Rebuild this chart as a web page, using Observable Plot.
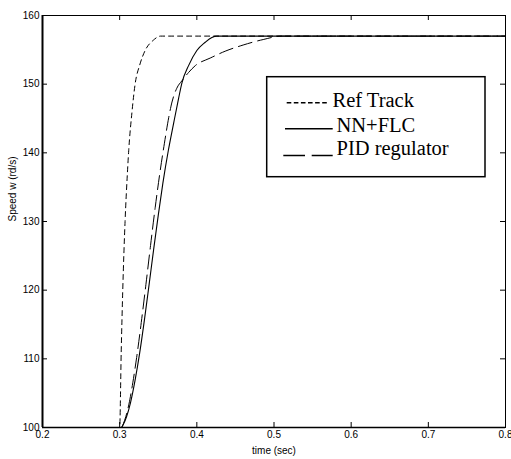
<!DOCTYPE html>
<html><head><meta charset="utf-8">
<script src="https://cdn.jsdelivr.net/npm/d3@7"></script>
<script src="https://cdn.jsdelivr.net/npm/@observablehq/plot@0.6"></script>
<style>
body{margin:0;background:#fff;}
#wrap{position:relative;width:511px;height:459px;}
#legend{position:absolute;left:0;top:0;pointer-events:none;}
</style></head><body>
<div id="wrap"></div>
<script>
// ---- data ----
const xTicks = [0.2, 0.3, 0.4, 0.5, 0.6, 0.7, 0.8];
const yTicks = [100, 110, 120, 130, 140, 150, 160];
const xDomain = [0.2, 0.8];
const yDomain = [100, 160];
const xLabel = "time (sec)";
const yLabel = "Speed w (rd/s)";
const seriesNames = ["Ref Track", "NN+FLC", "PID regulator"];

const refT = [0.2, 0.300, 0.302, 0.304, 0.307, 0.310, 0.3117, 0.316, 0.320, 0.326, 0.333, 0.3436, 0.353, 0.8];
const refV = [100, 100, 111, 120, 130, 137, 140.3, 146, 150, 152.8, 154.9, 156.4, 157, 157];

const nnT = [0.2, 0.302, 0.305, 0.309, 0.314, 0.320, 0.326, 0.332, 0.338, 0.344, 0.350, 0.356, 0.363, 0.3699, 0.3763, 0.3807, 0.3893, 0.400, 0.4109, 0.4195, 0.426, 0.8];
const nnV = [100, 100, 100.5, 101.6, 103.6, 106.9, 110.9, 115.6, 120.7, 125.9, 130.9, 135.6, 140.3, 144.3, 147.9, 150.2, 152.7, 154.9, 156.1, 156.8, 157, 157];

const pidT = [0.2, 0.302, 0.305, 0.308, 0.312, 0.317, 0.322, 0.328, 0.334, 0.340, 0.346, 0.352, 0.358, 0.3635, 0.3678, 0.374, 0.3807, 0.3893, 0.398, 0.4173, 0.4367, 0.460, 0.486, 0.510, 0.8];
const pidV = [100, 100, 100.6, 101.6, 103.4, 106.5, 110.2, 115.3, 120.8, 126.5, 132, 137, 141.4, 145.1, 147.4, 149.4, 150.5, 151.7, 152.7, 153.8, 154.8, 155.7, 156.5, 157, 157];

// ---- layout ----
const W = 511, H = 459, mL = 42, mR = 6, mT = 15, mB = 32;
const innerW = W - mL - mR, innerH = H - mT - mB;
const rows = (t, v) => t.map((x, i) => ({t: x, v: v[i]}));

const plot = Plot.plot({
  width: W, height: H,
  marginLeft: mL, marginRight: mR, marginTop: mT, marginBottom: mB,
  x: {domain: xDomain},
  y: {domain: yDomain},
  style: {fontFamily: "'Liberation Sans', Arial, sans-serif", fontSize: "10px", color: "#000", background: "#fff"},
  marks: [
    Plot.line(rows(pidT, pidV), {x: "t", y: "v", stroke: "#000", strokeWidth: 1, strokeDasharray: "14,6", curve: "monotone-x"}),
    Plot.line(rows(nnT, nnV), {x: "t", y: "v", stroke: "#000", strokeWidth: 1.1, curve: "monotone-x"}),
    Plot.line(rows(refT, refV), {x: "t", y: "v", stroke: "#000", strokeWidth: 1, strokeDasharray: "5,4", curve: "monotone-x"}),
    Plot.axisX({ticks: xTicks, tickSize: 0, tickPadding: 3, tickFormat: d3.format(".1f"), label: null}),
    Plot.axisY({ticks: yTicks, tickSize: 0, tickPadding: 3, tickFormat: d3.format("d"), label: null}),
    Plot.tickX(xTicks, {x: d => d, insetTop: innerH - 5}),
    Plot.tickX(xTicks, {x: d => d, insetBottom: innerH - 5}),
    Plot.tickY(yTicks, {y: d => d, insetRight: innerW - 5}),
    Plot.tickY(yTicks, {y: d => d, insetLeft: innerW - 5}),
    Plot.frame({stroke: "#000", strokeWidth: 1}),
    Plot.ruleX([xDomain[0]], {stroke: "#000", strokeWidth: 2}),
    Plot.ruleY([yDomain[0]], {stroke: "#000", strokeWidth: 1.5}),
    Plot.text([xLabel], {text: d => d, frameAnchor: "bottom", dy: 26}),
    Plot.text([yLabel], {text: d => d, frameAnchor: "left", dx: -29.5, rotate: -90})
  ]
});
const wrap = document.getElementById("wrap");
wrap.appendChild(plot);

// ---- legend (overlay inside the axes) ----
const ns = "http://www.w3.org/2000/svg";
const lg = document.createElementNS(ns, "svg");
lg.setAttribute("id", "legend");
lg.setAttribute("width", W);
lg.setAttribute("height", H);
function el(name, attrs, text) {
  const e = document.createElementNS(ns, name);
  for (const k in attrs) e.setAttribute(k, attrs[k]);
  if (text) e.textContent = text;
  lg.appendChild(e);
  return e;
}
el("rect", {x: 266.7, y: 76.7, width: 218.3, height: 100, fill: "#fff", stroke: "#000", "stroke-width": 1.5});
el("line", {x1: 286.7, x2: 327, y1: 102.7, y2: 102.7, stroke: "#000", "stroke-width": 1.4, "stroke-dasharray": "4.6,2.5"});
el("line", {x1: 285, x2: 332.7, y1: 128.7, y2: 128.7, stroke: "#000", "stroke-width": 1.5});
el("line", {x1: 283.3, x2: 305, y1: 155.5, y2: 155.5, stroke: "#000", "stroke-width": 1.5});
el("line", {x1: 311.7, x2: 332.7, y1: 155.5, y2: 155.5, stroke: "#000", "stroke-width": 1.5});
const tStyle = {"font-family": "'Liberation Serif', 'Times New Roman', serif", "font-size": "20.5px", fill: "#000"};
el("text", {...tStyle, x: 332.5, y: 107.3}, seriesNames[0]);
el("text", {...tStyle, x: 336.5, y: 131.7}, seriesNames[1]);
el("text", {...tStyle, x: 336.5, y: 155}, seriesNames[2]);
wrap.appendChild(lg);
</script>
</body></html>
